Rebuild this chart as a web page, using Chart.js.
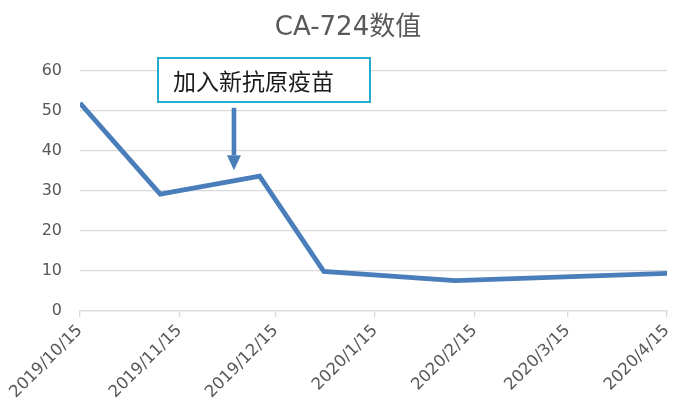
<!DOCTYPE html>
<html>
<head>
<meta charset="utf-8">
<script src="https://cdn.jsdelivr.net/npm/chart.js@4.4.0/dist/chart.umd.min.js"></script>
<style>
  html, body { margin: 0; padding: 0; background: #ffffff; }
  #wrap { width: 695px; height: 410px; position: relative; }
</style>
</head>
<body>
<div id="wrap"><canvas id="c" width="695" height="410"></canvas></div>
<script>
// ---- data ----
const chartTitle = 'CA-724数值';
const sampleDates = ['2019/10/15', '2019/11/9', '2019/12/10', '2019/12/30', '2020/2/9', '2020/4/15'];
const ca724Values = [52, 29.2, 33.7, 9.9, 7.6, 9.4];
const tickDates = ['2019/10/15', '2019/11/15', '2019/12/15', '2020/1/15', '2020/2/15', '2020/3/15', '2020/4/15'];
const yTicks = [0, 10, 20, 30, 40, 50, 60];
const noteText = '加入新抗原疫苗';
const noteDate = '2019/12/2';     // where the arrow points (date)
const noteArrowFrom = 50.8;        // arrow start value
const noteArrowTo = 35.2;          // arrow tip value

// ---- helpers ----
function dayIndex(s) {
  const [y, m, d] = s.split('/').map(Number);
  const base = Date.UTC(2019, 9, 15);
  return Math.round((Date.UTC(y, m - 1, d) - base) / 86400000);
}
const tickDays = tickDates.map(dayIndex);
const tickLabelByDay = {};
tickDates.forEach((t, i) => { tickLabelByDay[tickDays[i]] = t; });
const points = sampleDates.map((d, i) => ({ x: dayIndex(d), y: ca724Values[i] }));

const FONT = 'DejaVu Sans';
const TXT = '#595959';
const GRID = '#d9d9d9';
const LINE = '#4a7ebb';

const overlay = {
  id: 'overlay',
  afterDraw(chart) {
    const ctx = chart.ctx;
    const xs = chart.scales.x, ys = chart.scales.y;
    ctx.save();
    // title
    ctx.fillStyle = TXT;
    ctx.font = '26px "' + FONT + '", "Noto Sans CJK SC"';
    ctx.textAlign = 'center';
    ctx.textBaseline = 'middle';
    ctx.fillText(chartTitle, 348, 28);

    // arrow
    const ax = xs.getPixelForValue(dayIndex(noteDate));
    const y0 = ys.getPixelForValue(noteArrowFrom);
    const y1 = ys.getPixelForValue(noteArrowTo);
    ctx.fillStyle = LINE;
    ctx.fillRect(ax - 2.3, y0, 4.6, (y1 - 15) - y0);
    ctx.beginPath();
    ctx.moveTo(ax - 7, y1 - 15);
    ctx.lineTo(ax + 7, y1 - 15);
    ctx.lineTo(ax, y1);
    ctx.closePath();
    ctx.fill();

    // note box
    const bx = 158, by = 58, bw = 212, bh = 44;
    ctx.fillStyle = '#ffffff';
    ctx.fillRect(bx, by, bw, bh);
    ctx.strokeStyle = '#25aad0';
    ctx.lineWidth = 2;
    ctx.strokeRect(bx, by, bw, bh);
    ctx.fillStyle = '#1a1a1a';
    ctx.font = '23px "Noto Sans CJK SC"';
    ctx.textAlign = 'left';
    ctx.textBaseline = 'middle';
    ctx.fillText(noteText, 173, by + bh / 2 + 1);
    ctx.restore();
  }
};

new Chart(document.getElementById('c'), {
  type: 'line',
  data: {
    datasets: [{
      data: points,
      borderColor: LINE,
      backgroundColor: LINE,
      borderWidth: 4.8,
      pointRadius: 0,
      tension: 0,
      fill: false
    }]
  },
  options: {
    responsive: false,
    animation: false,
    devicePixelRatio: 1,
    layout: { padding: { top: 71, right: 28, bottom: 0, left: 0 } },
    plugins: { legend: { display: false }, title: { display: false }, tooltip: { enabled: false } },
    scales: {
      x: {
        type: 'linear',
        min: tickDays[0],
        max: tickDays[tickDays.length - 1],
        afterBuildTicks(scale) { scale.ticks = tickDays.map(v => ({ value: v })); },
        afterFit(scale) { scale.height = 99; },
        grid: { drawOnChartArea: false, drawTicks: true, tickLength: 6, color: GRID, lineWidth: 1.3 },
        border: { display: true, color: GRID, width: 1.3 },
        ticks: {
          autoSkip: false,
          maxRotation: 45, minRotation: 45,
          padding: 4,
          color: TXT,
          font: { family: FONT, size: 16.5 },
          callback: (v) => tickLabelByDay[v] || ''
        }
      },
      y: {
        min: 0, max: 60,
        afterBuildTicks(scale) { scale.ticks = yTicks.map(v => ({ value: v })); },
        afterFit(scale) { scale.width = 80; },
        grid: { drawTicks: false, color: GRID, lineWidth: 1.3 },
        border: { display: false },
        ticks: {
          padding: 18,
          color: TXT,
          font: { family: FONT, size: 16 }
        }
      }
    }
  },
  plugins: [overlay]
});
</script>
</body>
</html>
